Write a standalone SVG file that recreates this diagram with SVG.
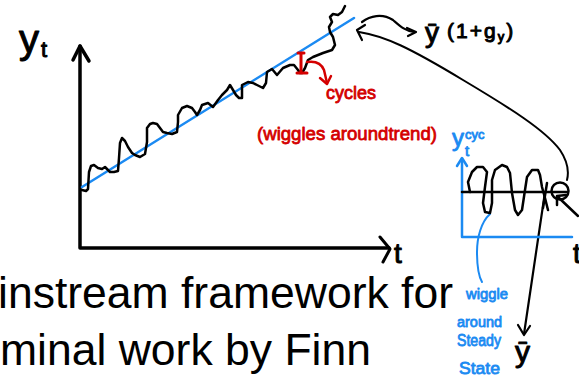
<svg xmlns="http://www.w3.org/2000/svg" width="579" height="380" viewBox="0 0 579 380">
<style>
.k{fill:none;stroke:#000;stroke-linecap:round;stroke-linejoin:round}
.b{fill:none;stroke:#1b8af2;stroke-linecap:round;stroke-linejoin:round}
.r{fill:none;stroke:#d40000;stroke-linecap:round;stroke-linejoin:round}
.hk{font-family:"Liberation Sans","DejaVu Sans",sans-serif;fill:#000;stroke:#000;stroke-width:1;stroke-linejoin:round}
.hb{font-family:"Liberation Sans","DejaVu Sans",sans-serif;fill:#1b8af2;stroke:#1b8af2;stroke-width:0.8;stroke-linejoin:round}
.hr{font-family:"Liberation Sans","DejaVu Sans",sans-serif;fill:#d40000;stroke:#d40000;stroke-width:0.8;stroke-linejoin:round}
.big{font-family:"Liberation Sans",Arial,sans-serif;font-size:44.5px;fill:#000}
</style>
<rect width="579" height="380" fill="#fff"/>

<g id="main-axes">
<path class="k" stroke-width="3.5" d="M80,46 V248 H389"/>
<path class="k" stroke-width="3.5" d="M73,60 L80,46 L89,61"/>
<path class="k" stroke-width="3" d="M380,237 L390,249 L383,262"/>
<text class="hk" x="19" y="53" font-size="40" stroke-width="2">y</text>
<text class="hk" x="41" y="57" font-size="22" stroke-width="1.2">t</text>
<text class="hk" x="394" y="263" font-size="28" stroke-width="0.8">t</text>
</g>

<g id="trend">
<path class="b" stroke-width="2.5" d="M82,187 L354,18"/>
</g>

<g id="series">
<polyline class="k" stroke-width="2.5" points="82,190 86,191 88,189 89,172 91,166 94,165 98,168 102,169 105,167 108,170 110,172 114,172 118,171 119,158 120,143 122,138 125,141 128,147 132,153 135,155 140,157 145,154 147,142 147,128 150,124 153,123 157,124 160,128 163,132 167,133 172,134 177,132 178,122 178,115 182,108 187,106 192,108 195,112 197,115 200,110 202,105 208,103 213,107 218,100 222,95 227,90 230,85 233,90 236,95 239,98 242,98 242,90 242,85 248,82 253,83 257,85 263,88 266,83 267,72 272,69 277,75 283,68 290,65 294,65 298,70 300,73 302,73 305,68 308,60 313,57 323,53 332,50 335,45 333,37 330,32 329,27 332,22 330,17 333,14 338,15 342,12 345,6"/>
</g>

<g id="cycles-note">
<path class="r" stroke-width="3" d="M301,53 V73 M298,53 H304 M297,73 H307"/>
<path class="r" stroke-width="2.5" d="M307,62 Q320,60 324,70 L327,83"/>
<path class="r" stroke-width="2.5" d="M320,78 L327,84 L331,76"/>
<text class="hr" x="326" y="99" font-size="18" textLength="50" lengthAdjust="spacingAndGlyphs">cycles</text>
<text class="hr" x="257" y="140" font-size="19" textLength="180" lengthAdjust="spacingAndGlyphs">(wiggles aroundtrend)</text>
</g>

<g id="growth-label">
<text class="hk" x="425" y="42" font-size="28" stroke-width="1">ȳ</text>
<text class="hk" x="447" y="38" font-size="21" letter-spacing="2" stroke-width="0.6">(1+g<tspan font-size="13" dy="3">y</tspan><tspan dy="-3">)</tspan></text>
</g>

<g id="connectors">
<path class="k" stroke-width="2.2" d="M362,22 C370,16 382,13 393,20 C400,26 405,31 414,32"/>
<path class="k" stroke-width="2.2" d="M407,28 L416,32 L408,36"/>
<path class="k" stroke-width="2.2" d="M365,25 L357,30 L362,40"/>
<path class="k" stroke-width="2" d="M359,32 C385,36 410,48 463,80 C510,108 545,130 560,150 C568,162 569,172 567,180"/>
<path class="k" stroke-width="2.5" d="M578,216 L558,197"/>
<path class="k" stroke-width="2.5" d="M557,205 L557,196 L566,195"/>
<path class="k" stroke-width="2.2" d="M545,192 L524,334"/>
<path class="k" stroke-width="2.2" d="M518,325 L524,335 L530,326"/>
<path class="b" stroke-width="2" d="M490,214 C481,222 477,238 477,252 C477,265 478,275 482,282"/>
</g>

<g id="cycle-plot">
<path class="b" stroke-width="2.5" d="M462,159 V237 H572"/>
<path class="b" stroke-width="2.5" d="M457,166 L462,158 L467,166"/>
<text class="hb" x="452" y="146" font-size="24" stroke-width="1">y</text>
<text class="hb" x="465" y="139" font-size="13">cyc</text>
<text class="hb" x="465" y="156" font-size="15">t</text>
<path class="k" stroke-width="2.5" d="M462,192 H567"/>
<polyline class="k" stroke-width="2.5" points="470,192 468,182 472,172 477,167 483,167 487,172 485,187 483,203 485,212 490,213 492,203 492,180 495,170 502,165 507,167 510,173 512,193 515,210 518,215 522,210 525,190 527,177 532,170 538,170 540,175 542,187 545,198 548,210"/>
<path class="k" stroke-width="2.5" d="M547,183 L543,208"/>
<circle class="k" stroke-width="2.5" cx="560" cy="191" r="8.5"/>
<text class="hk" x="573" y="263" font-size="28" stroke-width="0.8">t</text>
</g>

<g id="steady-state-note">
<text class="hb" x="466" y="299" font-size="15" textLength="42" lengthAdjust="spacingAndGlyphs">wiggle</text>
<text class="hb" x="457" y="327" font-size="15" textLength="45" lengthAdjust="spacingAndGlyphs">around</text>
<text class="hb" x="457" y="346" font-size="16" textLength="44" lengthAdjust="spacingAndGlyphs">Steady</text>
<text class="hb" x="459" y="374" font-size="17" textLength="41" lengthAdjust="spacingAndGlyphs">State</text>
<text class="hk" x="515" y="362" font-size="30" stroke-width="1">ȳ</text>
</g>

<g id="caption">
<text class="big" x="-2" y="308">instream framework for</text>
<text class="big" x="0" y="365">minal work by Finn</text>
</g>
</svg>
